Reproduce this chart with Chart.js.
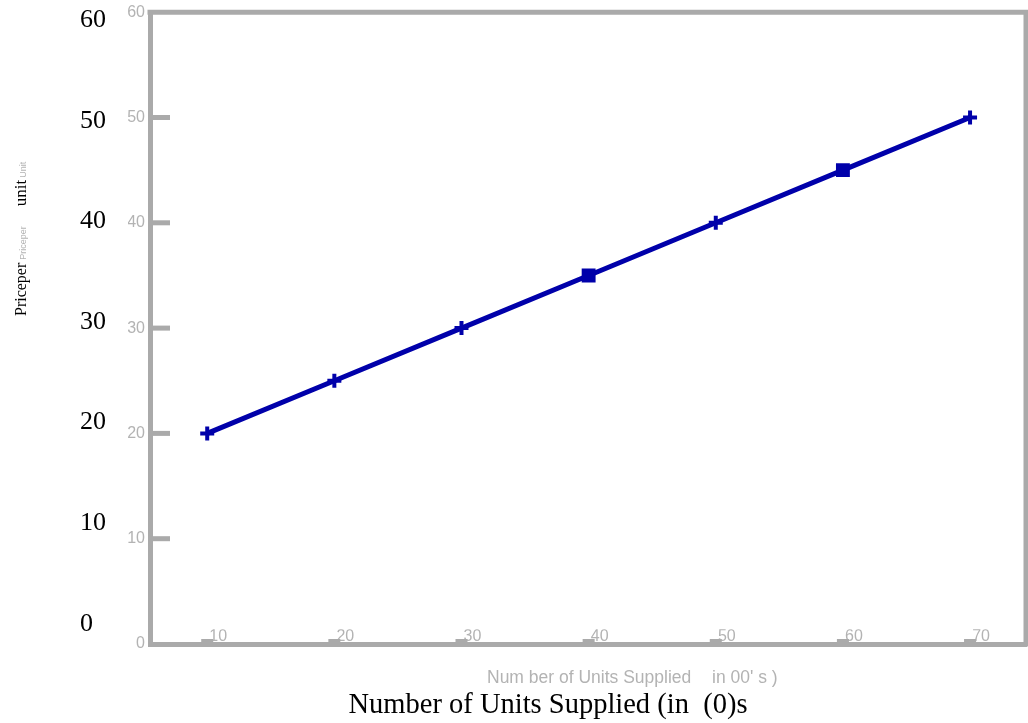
<!DOCTYPE html>
<html>
<head>
<meta charset="utf-8">
<script src="https://cdn.jsdelivr.net/npm/chart.js@4"></script>
<style>
  html, body { margin: 0; padding: 0; background: #fff; overflow: hidden; }
  canvas { display: block; }
</style>
</head>
<body>
<canvas id="supplyChart" width="1028" height="723"></canvas>
<script>
// units supplied (in 00's) and price per unit
let unitsSupplied = [10, 20, 30, 40, 50, 60, 70];
let pricePerUnit = [20, 25, 30, 35, 40, 45, 50];
let markerStyles = ['cross', 'cross', 'cross', 'rect', 'cross', 'rect', 'cross'];
let xTickValues = [10, 20, 30, 40, 50, 60, 70];
let yTickValues = [0, 10, 20, 30, 40, 50, 60];
let yTickMarks = [10, 20, 30, 40, 50];
let xRange = [5.5, 74.4];
let yRange = [0, 60];
let bigYRange = [-2.0, 60.8];

let gray = '#aaaaaa';
let lightText = '#b3b3b3';
let blue = '#0000aa';

let canvas = document.getElementById("supplyChart");

function makeTicks(scale, values){
  scale.ticks = values.map(v => ({ value: v }));
}

// frame, inner tick marks and the axis titles
let decorations = {
  id: 'decorations',
  afterDraw(chart){
    let ctx = chart.ctx;
    let area = chart.chartArea;
    let xs = chart.scales.x;
    let ys = chart.scales.y;
    ctx.save();
    ctx.strokeStyle = gray;
    ctx.lineWidth = 5;
    ctx.beginPath();
    ctx.moveTo(area.left - 2.5, area.top);
    ctx.lineTo(area.right, area.top);
    ctx.lineTo(area.right, area.bottom + 2.5);
    ctx.stroke();

    ctx.fillStyle = gray;
    for(let i = 0; i < yTickMarks.length; i++){
      let py = ys.getPixelForValue(yTickMarks[i]);
      ctx.fillRect(area.left, py - 2.5, 20, 5);
    }
    for(let i = 0; i < xTickValues.length; i++){
      let px = xs.getPixelForValue(xTickValues[i]);
      ctx.fillRect(px - 6, area.bottom - 5, 12, 4);
    }

    // x titles
    ctx.textBaseline = 'alphabetic';
    ctx.textAlign = 'left';
    ctx.fillStyle = lightText;
    ctx.font = '17.5px "Liberation Sans", Arial, sans-serif';
    ctx.fillText("Num ber of Units Supplied", 487, 683);
    ctx.fillText("in 00' s )", 712, 683);
    ctx.fillStyle = '#000';
    ctx.font = '28.5px "Liberation Serif", "Times New Roman", serif';
    ctx.textAlign = 'center';
    ctx.fillText("Number of Units Supplied (in  (0)s", 548, 713);

    // y title, rotated
    ctx.translate(26, 316);
    ctx.rotate(-Math.PI / 2);
    ctx.textAlign = 'left';
    let pos = 0;
    let parts = [
      { t: 'Priceper', f: '16px "Liberation Serif", serif', c: '#000', gap: 3 },
      { t: 'Priceper', f: '9px "Liberation Sans", sans-serif', c: lightText, gap: 20 },
      { t: 'unit', f: '17px "Liberation Serif", serif', c: '#000', gap: 2 },
      { t: 'Unit', f: '9px "Liberation Sans", sans-serif', c: lightText, gap: 0 }
    ];
    for(let i = 0; i < parts.length; i++){
      ctx.font = parts[i].f;
      ctx.fillStyle = parts[i].c;
      ctx.fillText(parts[i].t, pos, 0);
      pos += ctx.measureText(parts[i].t).width + parts[i].gap;
    }
    ctx.restore();
  }
};

new Chart(canvas, {
  type: 'line',
  data: {
    datasets: [{
      label: 'Supply',
      data: unitsSupplied.map((u, i) => ({ x: u, y: pricePerUnit[i] })),
      borderColor: blue,
      backgroundColor: blue,
      borderWidth: 5,
      pointStyle: markerStyles,
      pointRadius: 7,
      pointBorderWidth: 4,
      pointBorderColor: blue,
      pointBackgroundColor: blue,
      tension: 0
    }]
  },
  options: {
    responsive: false,
    animation: false,
    layout: { autoPadding: false, padding: { left: 80, top: 12, right: 2, bottom: 79 } },
    plugins: {
      legend: { display: false },
      tooltip: { enabled: false }
    },
    scales: {
      x: {
        type: 'linear',
        position: 'bottom',
        min: xRange[0],
        max: xRange[1],
        afterBuildTicks: s => makeTicks(s, xTickValues),
        afterFit: s => { s.paddingLeft = 0; s.paddingRight = 0; },
        grid: { display: false, drawTicks: false },
        border: { display: true, color: gray, width: 5 },
        ticks: {
          color: lightText,
          font: { family: '"Liberation Sans", Arial, sans-serif', size: 16 },
          padding: -17,
          labelOffset: 11,
          maxRotation: 0
        }
      },
      y: {
        type: 'linear',
        position: 'left',
        weight: 0,
        min: yRange[0],
        max: yRange[1],
        afterBuildTicks: s => makeTicks(s, yTickValues),
        afterFit: s => { s.width = 22; },
        grid: { display: false, drawTicks: false },
        border: { display: true, color: gray, width: 5 },
        ticks: {
          color: lightText,
          font: { family: '"Liberation Sans", Arial, sans-serif', size: 16, lineHeight: 0.9 },
          padding: 5
        }
      },
      y2: {
        type: 'linear',
        position: 'left',
        weight: 1,
        min: bigYRange[0],
        max: bigYRange[1],
        afterBuildTicks: s => makeTicks(s, yTickValues),
        afterFit: s => { s.width = 48; },
        grid: { display: false, drawTicks: false },
        border: { display: false },
        ticks: {
          color: '#000',
          crossAlign: 'far',
          font: { family: '"Liberation Serif", "Times New Roman", serif', size: 26, lineHeight: 0.9 },
          padding: 0
        }
      }
    }
  },
  plugins: [decorations]
});
</script>
</body>
</html>
